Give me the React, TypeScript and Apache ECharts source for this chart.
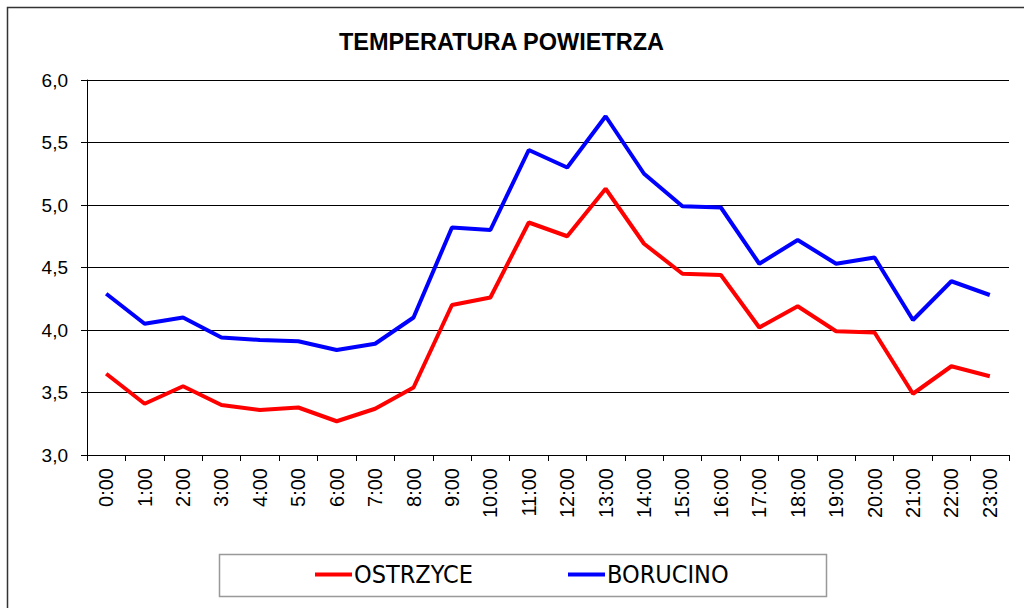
import React, { useEffect, useRef } from "react";
import * as echarts from "echarts";

const hours: string[] = [
  "0:00", "1:00", "2:00", "3:00", "4:00", "5:00", "6:00", "7:00", "8:00", "9:00", "10:00", "11:00",
  "12:00", "13:00", "14:00", "15:00", "16:00", "17:00", "18:00", "19:00", "20:00", "21:00", "22:00", "23:00",
];

const ostrzyce: number[] = [
  3.65, 3.41, 3.55, 3.40, 3.36, 3.38, 3.27, 3.37, 3.54, 4.20, 4.26, 4.86,
  4.75, 5.13, 4.69, 4.45, 4.44, 4.02, 4.19, 3.99, 3.98, 3.49, 3.71, 3.63,
];

const borucino: number[] = [
  4.29, 4.05, 4.10, 3.94, 3.92, 3.91, 3.84, 3.89, 4.10, 4.82, 4.80, 5.44,
  5.30, 5.71, 5.25, 4.99, 4.98, 4.53, 4.72, 4.53, 4.58, 4.08, 4.39, 4.28,
];

const seriesNames: string[] = ["OSTRZYCE", "BORUCINO"];
const titleText = "TEMPERATURA POWIETRZA";

export default function App() {
  const ref = useRef<HTMLDivElement>(null);
  useEffect(() => {
    if (!ref.current) return;
    const chart = echarts.init(ref.current, undefined, { renderer: "svg" });
    const font = "'Liberation Sans', Arial, sans-serif";
    const narrow = "'Liberation Sans Narrow', 'DejaVu Sans Condensed', 'Liberation Sans', sans-serif";
    chart.setOption({
      animation: false,
      backgroundColor: "#ffffff",
      title: {
        text: titleText,
        left: 334,
        top: 25,
        textStyle: { fontFamily: font, fontWeight: "bold", fontSize: 23.5, color: "#000" },
      },
      graphic: [
        {
          type: "rect",
          shape: { x: 7.5, y: 7.5, width: 1100, height: 700 },
          style: { fill: "none", stroke: "#333", lineWidth: 1.5 },
          z: -1,
        },
        {
          type: "rect",
          shape: { x: 219.5, y: 554.5, width: 607, height: 42 },
          style: { fill: "#fff", stroke: "#999", lineWidth: 1.5 },
          z: 0,
        },
      ],
      legend: [
        {
          data: [seriesNames[0]],
          left: 315,
          top: 562,
          padding: 0,
          itemWidth: 37,
          itemHeight: 4,
          icon: "rect",
          textStyle: { fontFamily: narrow, fontSize: 25, color: "#000", padding: [0, 0, 0, -3] },
          z: 5,
        },
        {
          data: [seriesNames[1]],
          left: 568,
          top: 562,
          padding: 0,
          itemWidth: 37,
          itemHeight: 4,
          icon: "rect",
          textStyle: { fontFamily: narrow, fontSize: 25, color: "#000", padding: [0, 0, 0, -3] },
          z: 5,
        },
      ],
      grid: { left: 87, right: 15, top: 80, bottom: 153, containLabel: false },
      xAxis: {
        type: "category",
        data: hours,
        boundaryGap: true,
        axisLine: { show: true, lineStyle: { color: "#000", width: 1 } },
        axisTick: { show: true, interval: 0, length: 6, lineStyle: { color: "#000" } },
        axisLabel: { interval: 0, rotate: 90, margin: 13, fontSize: 20, fontFamily: font, color: "#000" },
        splitLine: { show: false },
      },
      yAxis: {
        type: "value",
        min: 3,
        max: 6,
        interval: 0.5,
        axisLine: { show: true, lineStyle: { color: "#000", width: 1 } },
        axisTick: { show: true, length: 6, lineStyle: { color: "#000" } },
        axisLabel: {
          margin: 19,
          fontSize: 19,
          fontFamily: font,
          color: "#000",
          formatter: (v: number) => v.toFixed(1).replace(".", ","),
        },
        splitLine: { show: true, lineStyle: { color: "#000", width: 1 } },
      },
      series: [
        {
          name: seriesNames[0],
          type: "line",
          data: ostrzyce,
          showSymbol: false,
          symbol: "none",
          itemStyle: { color: "#ff0000" },
          lineStyle: { color: "#ff0000", width: 4 },
        },
        {
          name: seriesNames[1],
          type: "line",
          data: borucino,
          showSymbol: false,
          symbol: "none",
          itemStyle: { color: "#0000ff" },
          lineStyle: { color: "#0000ff", width: 4 },
        },
      ],
    });
    return () => chart.dispose();
  }, []);
  return (
    <div
      ref={ref}
      style={{ position: "fixed", left: 0, top: 0, width: 1024, height: 608, background: "#fff" }}
    />
  );
}
